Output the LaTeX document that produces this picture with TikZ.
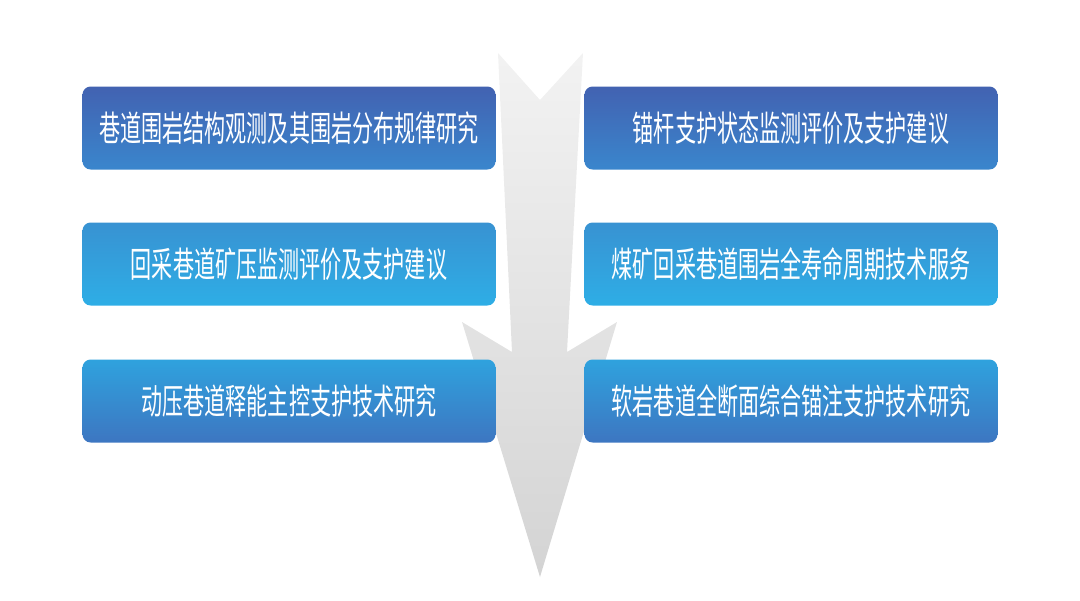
\documentclass[tikz,border=0pt]{standalone}
\usepackage{fontspec}
\newfontfamily\cjk[FakeStretch=0.6]{Noto Sans CJK SC}
\usetikzlibrary{positioning}

\definecolor{deepA}{HTML}{4262B1}
\definecolor{deepB}{HTML}{3A86CD}
\definecolor{skyA}{HTML}{3892D2}
\definecolor{skyB}{HTML}{2EAEE6}
\definecolor{lowA}{HTML}{2FA2DE}
\definecolor{lowB}{HTML}{3D76C1}

\tikzset{
	topic/.style={rounded corners=0.16cm, minimum width=8.26cm, minimum height=1.66cm, inner sep=0pt,
		text=white, font=\cjk\fontsize{20}{24}\selectfont},
	rowone/.style={topic, top color=deepA, bottom color=deepB},
	rowtwo/.style={topic, top color=skyA, bottom color=skyB},
	rowthree/.style={topic, top color=lowA, bottom color=lowB}
}

\begin{document}
\begin{tikzpicture}[x=0.02cm, y=-0.02cm]
	\useasboundingbox (0,0) rectangle (1080,600);

	% big arrow behind the boxes
	\shade[top color=black!5, middle color=black!17, bottom color=black!17]
		(498,53) -- (540,100) -- (583,53) -- (567,352) -- (617,322)
		-- (540,577) -- (462,322) -- (512,352) -- cycle;

	% left column
	\node[rowone] (survey) at (289,128) {巷道围岩结构观测及其围岩分布规律研究};
	\node[rowtwo] (pressure) at (289,264) {回采巷道矿压监测评价及支护建议};
	\node[rowthree] (dynamic) at (289,401) {动压巷道释能主控支护技术研究};

	% right column
	\node[rowone] (bolt) at (791,128) {锚杆支护状态监测评价及支护建议};
	\node[rowtwo] (service) at (791,264) {煤矿回采巷道围岩全寿命周期技术服务};
	\node[rowthree] (softrock) at (791,401) {软岩巷道全断面综合锚注支护技术研究};
\end{tikzpicture}
\end{document}
